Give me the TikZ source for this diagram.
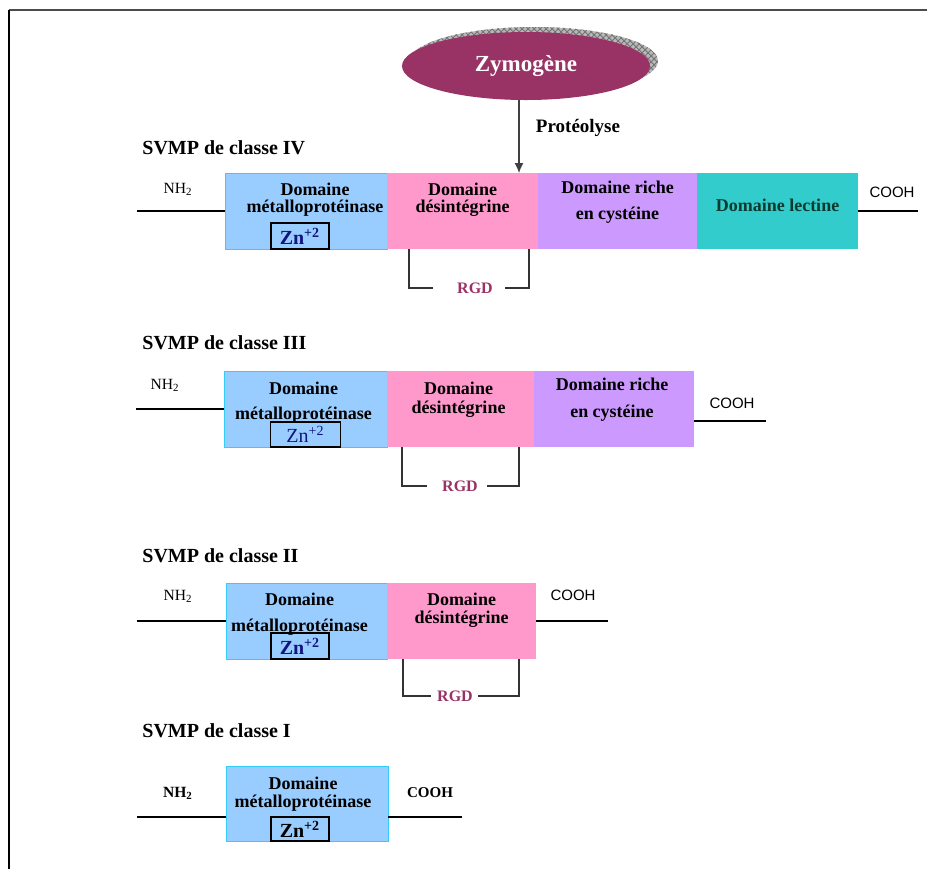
\documentclass[tikz,border=0pt]{standalone}
\usepackage{fontspec}
\setmainfont{Liberation Serif}
\setsansfont{Liberation Sans}
\usetikzlibrary{positioning,calc,shapes.geometric,patterns,arrows.meta}
\definecolor{metalfill}{HTML}{99CCFF}
\definecolor{metalline}{HTML}{33CCFF}
\definecolor{desfill}{HTML}{FF99CC}
\definecolor{cysfill}{HTML}{CC99FF}
\definecolor{lecfill}{HTML}{33CCCC}
\definecolor{lectext}{HTML}{0B3B2E}
\definecolor{zymofill}{HTML}{993366}
\definecolor{rgdcol}{HTML}{993366}
\definecolor{znblue}{HTML}{141480}
\tikzset{dom/.style={minimum height=38pt,inner sep=0pt,outer sep=0pt},
         metalbox/.style={dom,fill=metalfill,draw=metalline,thin},
         desbox/.style={dom,fill=desfill},
         cysbox/.style={dom,fill=cysfill},
         lecbox/.style={dom,fill=lecfill},
         dtext/.style={inner sep=0pt,align=center,font=\bfseries\fontsize{9}{8.5}\selectfont},
         znbox/.style={draw,line width=0.9pt,inner sep=0pt,outer sep=0pt,minimum height=13pt,text=znblue,
                       font=\bfseries\fontsize{10}{10}\selectfont},
         rgd/.style={inner sep=0pt,text=rgdcol,font=\bfseries\fontsize{8}{8}\selectfont},
         title/.style={anchor=west,inner sep=0pt,font=\bfseries\fontsize{10}{10}\selectfont},
         term/.style={inner sep=0pt,font=\fontsize{7.8}{8}\selectfont},
         cterm/.style={inner sep=0pt,font=\sffamily\fontsize{7.5}{8}\selectfont},
         line/.style={line width=0.6pt},
         bracket/.style={line width=0.6pt,black!80}
}
\tikzstyle{arrow} = [line width=0.6pt,gray!50!black,-{Latex[length=5pt,width=4.5pt]}]

\begin{document}
\begin{tikzpicture}[x=0.5pt,y=-0.5pt]
\useasboundingbox (0,0) rectangle (927,869);
\draw[gray!60!black,line width=1.2pt] (9,10) -- (927,10);
\draw[line width=0.8pt] (9,10) -- (9,869);

% zymogene
\node[ellipse,minimum width=124pt,minimum height=34pt,preaction={fill=gray!55},
      pattern=crosshatch,pattern color=gray!90!black] (zshade) at (534,61) {};
\node[ellipse,fill=zymofill,text=white,minimum width=124pt,minimum height=34pt,
      font=\bfseries\fontsize{11.5}{12}\selectfont] (zymo) at (526,66) {Zymogène};
\node[inner sep=0pt,font=\bfseries\fontsize{9.5}{10}\selectfont] (prot) at (578,128) {Protéolyse};

% classe IV
\node[title] (s4) at (142,148) {SVMP de classe IV};
\node[metalbox,minimum width=81pt] (m4) at (306,211) {};
\node[desbox,minimum width=75.5pt,right=0pt of m4] (d4) {};
\node[cysbox,minimum width=79.5pt,right=0pt of d4] (c4) {};
\node[lecbox,minimum width=80.5pt,right=0pt of c4] (l4) {};
\node[dtext,below=5pt of m4.north,xshift=4.5pt] (tm4) {Domaine\\métalloprotéinase};
\node[dtext,below=5pt of d4.north] (td4) {Domaine\\désintégrine};
\node[dtext,below=4pt of c4.north] (tc4) {Domaine riche\\[4.5pt]en cystéine};
\node[dtext,below=13pt of l4.north,text=lectext] (tl4) {Domaine lectine};
\node[znbox,minimum width=29pt,above=0pt of m4.south,xshift=-3pt] (z4) {Zn\textsuperscript{+2}};
\node[term] (nh4) at (178,189) {NH\textsubscript{2}};
\node[cterm] (co4) at (892,192) {COOH};
\coordinate (n4) at (137,211);
\coordinate (k4) at (918,211);
\draw[line] (n4) -- (m4.west);
\draw[line] (l4.east) -- (k4);
\draw[arrow] ([xshift=-3.5pt]zymo.south) -- ([xshift=-3.5pt]zymo.south |- d4.north);
\node[rgd] (r4) at (475,288) {RGD};
\draw[bracket] ([xshift=-12pt]r4.west) -| ([xshift=11pt]d4.south west);
\draw[bracket] ([xshift=6pt]r4.east) -| ([xshift=-4.5pt]d4.south east);

% classe III
\node[title] (s3) at (142,343) {SVMP de classe III};
\node[metalbox,minimum width=81.5pt] (m3) at (305.5,409) {};
\node[desbox,minimum width=73.5pt,right=0pt of m3] (d3) {};
\node[cysbox,minimum width=80pt,right=0pt of d3] (c3) {};
\node[dtext,below=5.5pt of m3.north,xshift=-1pt] (tm3) {Domaine\\[4pt]métalloprotéinase};
\node[dtext,below=5.5pt of d3.north,xshift=-1pt] (td3) {Domaine\\[1pt]désintégrine};
\node[dtext,below=3.5pt of c3.north,xshift=-1pt] (tc3) {Domaine riche\\[5pt]en cystéine};
\node[znbox,minimum width=35pt,minimum height=12.5pt,above=0pt of m3.south,
      font=\fontsize{10}{10}\selectfont] (z3) {Zn\textsuperscript{+2}};
\node[term] (nh3) at (165,385) {NH\textsubscript{2}};
\node[cterm] (co3) at (732,403) {COOH};
\coordinate (n3) at (136,409);
\coordinate (k3) at (766,421);
\draw[line] (n3) -- (m3.west);
\draw[line] ([yshift=-6pt]c3.east) -- (k3);
\node[rgd] (r3) at (460,486) {RGD};
\draw[bracket] ([xshift=-7.5pt]r3.west) -| ([xshift=7.5pt]d3.south west);
\draw[bracket] ([xshift=4.5pt]r3.east) -| ([xshift=-7.5pt]d3.south east);

% classe II
\node[title] (s2) at (142,556) {SVMP de classe II};
\node[metalbox,minimum width=80.5pt] (m2) at (306.5,621) {};
\node[desbox,minimum width=74.5pt,right=0pt of m2] (d2) {};
\node[dtext,below=5pt of m2.north,xshift=-3.5pt] (tm2) {Domaine\\[4.5pt]métalloprotéinase};
\node[dtext,below=5pt of d2.north] (td2) {Domaine\\[0.5pt]désintégrine};
\node[znbox,minimum width=29pt,above=0pt of m2.south,xshift=-3.25pt] (z2) {Zn\textsuperscript{+2}};
\node[term] (nh2) at (178,596) {NH\textsubscript{2}};
\node[cterm] (co2) at (573,595) {COOH};
\coordinate (n2) at (137,621);
\coordinate (k2) at (608,621);
\draw[line] (n2) -- (m2.west);
\draw[line] (d2.east) -- (k2);
\node[rgd] (r2) at (455,696) {RGD};
\draw[bracket] ([xshift=-3pt]r2.west) -| ([xshift=8pt]d2.south west);
\draw[bracket] ([xshift=2.5pt]r2.east) -| ([xshift=-8.5pt]d2.south east);

% classe I
\node[title] (s1) at (142,731) {SVMP de classe I};
\node[metalbox,minimum width=81pt,minimum height=37.5pt] (m1) at (307,803.5) {};
\node[dtext,below=5.5pt of m1.north,xshift=-2pt] (tm1) {Domaine\\[0.5pt]métalloprotéinase};
\node[znbox,minimum width=29pt,minimum height=12pt,above=0pt of m1.south,xshift=-3.5pt,text=black] (z1) {Zn\textsuperscript{+2}};
\node[term,font=\bfseries\fontsize{7.8}{8}\selectfont] (nh1) at (178,793) {NH\textsubscript{2}};
\node[term,font=\bfseries\fontsize{7.5}{8}\selectfont] (co1) at (430,793) {COOH};
\coordinate (n1) at (137,817);
\coordinate (k1) at (462,817);
\draw[line] (n1) -- ([yshift=-6.75pt]m1.west);
\draw[line] ([yshift=-6.75pt]m1.east) -- (k1);

\end{tikzpicture}
\end{document}
